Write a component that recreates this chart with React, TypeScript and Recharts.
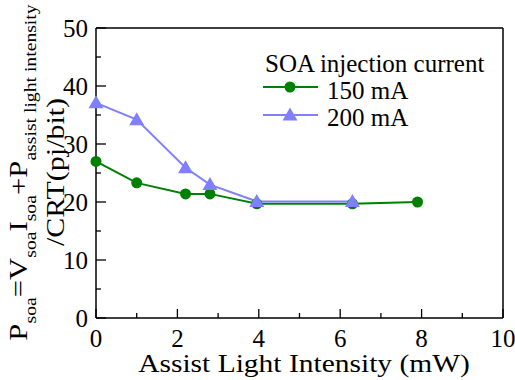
import * as React from "react"
import { Legend, Line, LineChart, XAxis, YAxis } from "recharts"

// values
const xTicks = [0, 1, 2, 3, 4, 5, 6, 7, 8, 9, 10]
const yTicks = [0, 5, 10, 15, 20, 25, 30, 35, 40, 45, 50]

const x150 = [0, 1, 2.2, 2.8, 3.95, 6.3, 7.9]
const y150 = [27.0, 23.3, 21.4, 21.4, 19.7, 19.7, 20.0]

const x200 = [0, 1, 2.2, 2.8, 3.95, 6.3]
const y200 = [37.1, 34.2, 25.9, 23.0, 20.1, 20.1]

const legendTitle = "SOA injection current"
const seriesNames = ["150 mA", "200 mA"]
const xTitle = "Assist Light Intensity (mW)"

const FONT = "Liberation Serif, Times New Roman, serif"
const GREEN = "#008000"
const BLUE = "#8080ff"

const data150 = x150.map((x, i) => ({ x, y: y150[i] }))
const data200 = x200.map((x, i) => ({ x, y: y200[i] }))

const Triangle = (props: any) => {
  const { cx, cy, fill } = props
  if (cx == null || cy == null) return null
  return <polygon points={`${cx},${cy - 7.5} ${cx - 7.5},${cy + 5.5} ${cx + 7.5},${cy + 5.5}`} fill={fill} />
}

const Circle = (props: any) => {
  const { cx, cy, fill } = props
  if (cx == null || cy == null) return null
  return <circle cx={cx} cy={cy} r={5.5} fill={fill} />
}

// inward ticks, labels only on majors
const BottomTick = (props: any) => {
  const { x, y, payload } = props
  const major = payload.value % 2 === 0
  return (
    <g>
      <line x1={x} y1={y} x2={x} y2={y - (major ? 9 : 5)} stroke="#000" strokeWidth={1.3} />
      {major && (
        <text x={x} y={y + 29} textAnchor="middle" fontSize={25} style={{ fontFamily: FONT }} fill="#000">
          {payload.value}
        </text>
      )}
    </g>
  )
}

const TopTick = (props: any) => {
  const { x, y, payload } = props
  const major = payload.value % 2 === 0
  return <line x1={x} y1={y} x2={x} y2={y + (major ? 9 : 5)} stroke="#000" strokeWidth={1.3} />
}

const LeftTick = (props: any) => {
  const { x, y, payload } = props
  const major = payload.value % 10 === 0
  return (
    <g>
      <line x1={x} y1={y} x2={x + (major ? 10 : 5)} y2={y} stroke="#000" strokeWidth={1.3} />
      {major && (
        <text x={x - 8} y={y + 8.5} textAnchor="end" fontSize={25} style={{ fontFamily: FONT }} fill="#000">
          {payload.value}
        </text>
      )}
    </g>
  )
}

const RightTick = (props: any) => {
  const { x, y, payload } = props
  const major = payload.value % 10 === 0
  return <line x1={x} y1={y} x2={x - (major ? 10 : 5)} y2={y} stroke="#000" strokeWidth={1.3} />
}

const YTitle = () => (
  <g style={{ fontFamily: FONT }} fill="#000">
    <g transform="translate(27,172.5) rotate(-90) scale(1.23,1)">
      <text x={0} y={0} textAnchor="middle" fontSize={25}>
        <tspan>P</tspan>
        <tspan fontSize={16} dy={9}>soa</tspan>
        <tspan dy={-9}>=V</tspan>
        <tspan fontSize={16} dy={9}>soa</tspan>
        <tspan dy={-9}>I</tspan>
        <tspan fontSize={16} dy={9}>soa</tspan>
        <tspan dy={-9}>+P</tspan>
        <tspan fontSize={16} dy={9}>assist light intensity</tspan>
      </text>
    </g>
    <g transform="translate(64,172) rotate(-90) scale(1.2,1)">
      <text x={0} y={0} textAnchor="middle" fontSize={25}>/CRT(pj/bit)</text>
    </g>
  </g>
)

const XTitle = () => (
  <g transform="translate(304,372) scale(1.18,1)">
    <text x={0} y={0} textAnchor="middle" fontSize={25} style={{ fontFamily: FONT }} fill="#000">
      {xTitle}
    </text>
  </g>
)

const LegendBox = () => (
  <svg width={245} height={90} style={{ display: "block", fontFamily: FONT }}>
    <text x={3} y={24} fontSize={25} fill="#000">{legendTitle}</text>
    <line x1={1} y1={39} x2={56} y2={39} stroke={GREEN} strokeWidth={2} />
    <circle cx={28} cy={39} r={5.5} fill={GREEN} />
    <text x={65} y={51} fontSize={25} fill="#000">{seriesNames[0]}</text>
    <line x1={1} y1={67} x2={56} y2={67} stroke={BLUE} strokeWidth={2} />
    <polygon points="28,59.5 20.5,72.5 35.5,72.5" fill={BLUE} />
    <text x={65} y={78} fontSize={25} fill="#000">{seriesNames[1]}</text>
  </svg>
)

export default function App() {
  return (
    <div style={{ position: "absolute", left: 0, top: 0, background: "#fff" }}>
      <LineChart width={515} height={380} margin={{ top: 27, right: 11, bottom: 61, left: 0 }}>
        <XAxis
          xAxisId="b"
          dataKey="x"
          type="number"
          domain={[0, 10]}
          ticks={xTicks}
          interval={0}
          height={1}
          tickSize={0}
          tickMargin={0}
          tickLine={false}
          tick={<BottomTick />}
          axisLine={{ stroke: "#000", strokeWidth: 1.5 }}
          label={{ content: () => <XTitle /> }}
        />
        <XAxis
          xAxisId="t"
          orientation="top"
          type="number"
          domain={[0, 10]}
          ticks={xTicks}
          interval={0}
          height={1}
          tickSize={0}
          tickMargin={0}
          tickLine={false}
          tick={<TopTick />}
          axisLine={{ stroke: "#000", strokeWidth: 1.5 }}
        />
        <YAxis
          yAxisId="l"
          type="number"
          domain={[0, 50]}
          ticks={yTicks}
          interval={0}
          width={96}
          tickSize={0}
          tickMargin={0}
          tickLine={false}
          tick={<LeftTick />}
          axisLine={{ stroke: "#000", strokeWidth: 1.5 }}
          label={{ content: () => <YTitle /> }}
        />
        <YAxis
          yAxisId="r"
          orientation="right"
          type="number"
          domain={[0, 50]}
          ticks={yTicks}
          interval={0}
          width={1}
          tickSize={0}
          tickMargin={0}
          tickLine={false}
          tick={<RightTick />}
          axisLine={{ stroke: "#000", strokeWidth: 1.5 }}
        />
        <Legend
          layout="vertical"
          align="center"
          verticalAlign="middle"
          wrapperStyle={{ left: 262, top: 48, width: 245 }}
          content={() => <LegendBox />}
        />
        <Line
          xAxisId="b"
          yAxisId="l"
          data={data150}
          dataKey="y"
          name={seriesNames[0]}
          stroke={GREEN}
          strokeWidth={2}
          dot={<Circle fill={GREEN} />}
          isAnimationActive={false}
        />
        <Line
          xAxisId="b"
          yAxisId="l"
          data={data200}
          dataKey="y"
          name={seriesNames[1]}
          stroke={BLUE}
          strokeWidth={2}
          dot={<Triangle fill={BLUE} />}
          isAnimationActive={false}
        />
      </LineChart>
    </div>
  )
}
